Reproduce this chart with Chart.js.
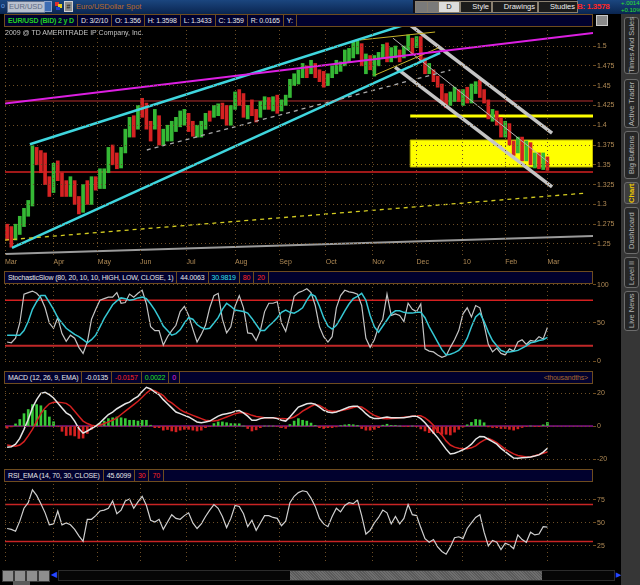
<!DOCTYPE html>
<html lang="en">
<head>
<meta charset="UTF-8">
<meta name="viewport" content="width=device-width, initial-scale=1.0">
<title>EUR/USD 2 y D</title>
<script src="https://cdn.jsdelivr.net/npm/chart.js"></script>
<style>
  body { margin: 0; background: #000; font-family: Arial, "Liberation Sans", sans-serif; }
  #wrap { position: relative; width: 640px; height: 585px; overflow: hidden; background: #000; }
  .a { position: absolute; }
  canvas { position: absolute; left: 5px; }
  .bar { position: absolute; left: 4px; width: 587px; height: 11px; background: #01012e; border: 1px solid #6e4c1e; display: flex; font-size: 7px; line-height: 11px; color: #e6e6e6; white-space: nowrap; overflow: hidden; z-index: 2; letter-spacing: -0.15px; }
  .bar span { display: block; padding: 0 3px 0 3px; border-right: 1px solid #6e4c1e; overflow: hidden; }
  .topbar { left: 0; top: 0; width: 640px; height: 14px; background: linear-gradient(#1b467f, #0a2550); }
  .btn { position: absolute; top: 1px; height: 10px; background: #1b1b1b; border: 1px solid #8a8070; color: #f0f0f0; font-size: 7.5px; line-height: 10px; padding: 0 2px; box-sizing: content-box; }
  .tab { position: absolute; left: 624px; width: 15px; background: #262626; border: 1px solid #6c6c6c; border-radius: 3px; color: #b4b4b4; font-size: 7.5px; writing-mode: vertical-rl; transform: rotate(180deg); text-align: center; line-height: 13px; box-sizing: border-box; white-space: nowrap; }
  .bb { position: absolute; top: 570px; width: 10px; height: 10px; background: #8e8e8e; border: 1px solid #3a3a3a; }
</style>
</head>
<body>
<div id="wrap">
  <!-- top toolbar -->
  <div class="a topbar"></div>
  <div class="a" style="left:1px;top:2px;font-size:7px;color:#6f9fe0;">o</div>
  <div class="a" style="left:7px;top:1px;width:35px;height:10px;background:#b9c1cf;border:1px solid #60708c;font-size:7.5px;line-height:10px;color:#5f6d84;padding-left:1px;">EUR/USD</div>
  <div class="a" style="left:44px;top:1px;width:8px;height:11px;background:#3d6db4;border:1px solid #8aa0c8;box-sizing:border-box;"></div>
  <div class="a" style="left:55px;top:2px;width:4px;height:4px;background:#e03030;"></div>
  <div class="a" style="left:58px;top:4px;width:4px;height:4px;background:#e8d020;"></div>
  <div class="a" style="left:56px;top:7px;width:4px;height:3px;background:#2040d0;"></div>
  <div class="a" style="left:64px;top:1px;width:9px;height:11px;background:#8c8c8c;border:1px solid #d0d0d0;box-sizing:border-box;font-size:7px;line-height:9px;text-align:center;color:#222;">#</div>
  <div class="a" style="left:76px;top:2px;font-size:7.5px;line-height:10px;color:#b8692c;">Euro/USDollar Spot</div>

  <div class="a" style="left:413px;top:0;width:164px;height:13px;background:#101018;"></div>
  <div class="btn" style="left:415px;width:7px;background:#7a7a7a;"></div>
  <div class="btn" style="left:427px;width:7px;background:#7a7a7a;"></div>
  <div class="btn" style="left:438px;width:16px;background:#dcdcdc;color:#111;text-align:center;">D</div>
  <div class="btn" style="left:460px;width:26px;text-align:right;">Style</div>
  <div class="btn" style="left:492px;width:40px;text-align:right;">Drawings</div>
  <div class="btn" style="left:538px;width:34px;text-align:right;">Studies</div>
  <div class="a" style="left:577px;top:1px;font-size:8px;font-weight:bold;color:#ff2626;line-height:11px;letter-spacing:-0.3px;">B: 1.3578</div>
  <div class="a" style="left:621px;top:0;font-size:6px;line-height:6.5px;color:#2ee02e;">+.0014<br>+0.10%</div>

  <!-- price header -->
  <div class="bar" style="top:14px;">
    <span style="color:#22d022;font-weight:bold;">EUR/USD (BID) 2 y D</span>
    <span>D: 3/2/10</span>
    <span>O: 1.356</span>
    <span>H: 1.3598</span>
    <span>L: 1.3433</span>
    <span>C: 1.359</span>
    <span>R: 0.0165</span>
    <span>Y:</span>
  </div>
  <div class="a" style="left:596px;top:15px;width:10px;height:9px;background:#8a8a8a;border:1px solid #c8c8c8;"></div>
  <div class="a" style="left:5px;top:29px;font-size:7px;color:#c4c4c4;z-index:2;">2009 @ TD AMERITRADE IP Company, Inc.</div>

  <canvas id="priceChart" width="612" height="251" style="top:18px;"></canvas>

  <!-- stochastic -->
  <div class="bar" style="top:271px;">
    <span>StochasticSlow (80, 20, 10, 10, HIGH, LOW, CLOSE, 1)</span>
    <span>44.0063</span>
    <span style="color:#34e0ee;">30.9819</span>
    <span style="color:#ff2424;">80</span>
    <span style="color:#ff2424;">20</span>
  </div>
  <canvas id="stochChart" width="612" height="92" style="top:277px;"></canvas>

  <!-- macd -->
  <div class="bar" style="top:371px;">
    <span>MACD (12, 26, 9, EMA)</span>
    <span>-0.0135</span>
    <span style="color:#ff2424;">-0.0157</span>
    <span style="color:#24e024;">0.0022</span>
    <span style="color:#e424e4;">0</span>
    <span style="flex:1;border-right:none;text-align:right;padding-right:4px;color:#a8692e;">&lt;thousandths&gt;</span>
  </div>
  <canvas id="macdChart" width="612" height="91" style="top:377px;"></canvas>

  <!-- rsi -->
  <div class="bar" style="top:469px;">
    <span>RSI_EMA (14, 70, 30, CLOSE)</span>
    <span>45.6099</span>
    <span style="color:#ff2424;">30</span>
    <span style="color:#ff2424;">70</span>
  </div>
  <canvas id="rsiChart" width="612" height="94" style="top:474px;"></canvas>

  <!-- right side tabs -->
  <div class="a" style="left:621px;top:14px;width:19px;height:571px;background:#363636;"></div>
  <div class="tab" style="top:17px;height:57px;">Times And Sales</div>
  <div class="tab" style="top:79px;height:49px;">Active Trader</div>
  <div class="tab" style="top:131px;height:48px;">Big Buttons</div>
  <div class="tab" style="top:182px;height:22px;background:#3e3e3e;color:#f0c800;font-weight:bold;">Chart</div>
  <div class="tab" style="top:207px;height:47px;">Dashboard</div>
  <div class="tab" style="top:257px;height:31px;">Level II</div>
  <div class="tab" style="top:291px;height:40px;">Live News</div>

  <!-- bottom toolbar -->
  <div class="bb" style="left:2px;"></div>
  <div class="bb" style="left:14px;"></div>
  <div class="bb" style="left:26px;"></div>
  <div class="bb" style="left:38px;"></div>
  <div class="a" style="left:13px;top:581px;width:17px;height:4px;background:#5a5a5a;"></div>
  <div class="a" style="left:51px;top:570px;font-size:8px;line-height:10px;color:#2848ff;">&#9664;</div>
  <div class="a" style="left:58px;top:570px;width:557px;height:11px;background:#060606;border:1px solid #2c2c2c;box-sizing:border-box;"></div>
  <div class="a" style="left:290px;top:571px;width:252px;height:9px;background:repeating-linear-gradient(45deg,#6e6e6e 0 1px,#5a5a5a 1px 2px);"></div>
  <div class="a" style="left:616px;top:570px;font-size:7px;line-height:10px;color:#2848ff;">&#9654;</div>
</div>

<script>
// x positions are bar numbers (each bar = two trading days, Mar 2009 .. Mar 2010)
const monthTicks = [-0.5, 11, 21.5, 31.5, 42.5, 54, 64.5, 75.5, 86.5, 97, 108, 118, 128];
const monthLabels = ['Mar', 'Apr', 'May', 'Jun', 'Jul', 'Aug', 'Sep', 'Oct', 'Nov', 'Dec', '10', 'Feb', 'Mar'];

const barHigh = [1.275,1.272,1.275,1.285,1.295,1.305,1.374,1.372,1.368,1.365,
  1.335,1.352,1.355,1.340,1.330,1.335,1.330,1.310,1.325,1.330,
  1.335,1.335,1.345,1.345,1.372,1.375,1.365,1.372,1.395,1.410,
  1.412,1.425,1.434,1.428,1.405,1.420,1.412,1.395,1.400,1.405,
  1.410,1.418,1.420,1.415,1.405,1.400,1.405,1.415,1.418,1.425,
  1.427,1.428,1.425,1.425,1.442,1.445,1.440,1.425,1.432,1.420,
  1.430,1.436,1.435,1.436,1.438,1.432,1.438,1.458,1.465,1.470,
  1.478,1.475,1.482,1.478,1.470,1.468,1.465,1.475,1.482,1.480,
  1.495,1.497,1.506,1.508,1.503,1.490,1.488,1.488,1.492,1.502,
  1.504,1.498,1.500,1.495,1.500,1.514,1.510,1.512,1.512,1.485,
  1.478,1.470,1.462,1.452,1.440,1.442,1.448,1.445,1.445,1.448,
  1.452,1.455,1.457,1.445,1.432,1.420,1.418,1.410,1.405,1.402,
  1.380,1.385,1.385,1.380,1.378,1.365,1.365,1.365,1.360];
const barLow = [1.255,1.246,1.255,1.262,1.272,1.285,1.298,1.350,1.340,1.325,
  1.310,1.315,1.330,1.310,1.310,1.310,1.300,1.288,1.290,1.300,
  1.300,1.318,1.320,1.320,1.340,1.350,1.345,1.346,1.365,1.385,
  1.385,1.395,1.410,1.395,1.380,1.395,1.375,1.375,1.380,1.380,
  1.392,1.398,1.400,1.392,1.386,1.385,1.385,1.395,1.405,1.410,
  1.412,1.408,1.400,1.400,1.420,1.425,1.410,1.408,1.412,1.404,
  1.410,1.420,1.420,1.418,1.415,1.418,1.425,1.435,1.450,1.452,
  1.460,1.460,1.465,1.460,1.455,1.448,1.450,1.460,1.465,1.468,
  1.475,1.480,1.485,1.490,1.475,1.465,1.470,1.462,1.475,1.484,
  1.480,1.480,1.485,1.480,1.485,1.495,1.490,1.498,1.480,1.465,
  1.465,1.455,1.448,1.428,1.422,1.425,1.430,1.430,1.425,1.428,
  1.428,1.440,1.435,1.428,1.408,1.405,1.400,1.385,1.385,1.375,
  1.362,1.365,1.355,1.355,1.350,1.346,1.345,1.344,1.343];
const barClose = [1.262,1.258,1.265,1.280,1.292,1.300,1.370,1.363,1.352,1.330,
  1.322,1.348,1.338,1.318,1.316,1.322,1.305,1.295,1.320,1.312,
  1.328,1.327,1.335,1.340,1.362,1.358,1.350,1.368,1.390,1.400,
  1.395,1.420,1.418,1.400,1.395,1.415,1.380,1.390,1.395,1.400,
  1.402,1.410,1.412,1.398,1.392,1.396,1.402,1.412,1.410,1.420,
  1.422,1.418,1.405,1.420,1.440,1.430,1.415,1.420,1.418,1.412,
  1.425,1.430,1.428,1.432,1.420,1.428,1.435,1.455,1.458,1.465,
  1.472,1.468,1.475,1.465,1.460,1.452,1.462,1.470,1.472,1.478,
  1.490,1.492,1.500,1.502,1.480,1.482,1.474,1.485,1.485,1.495,
  1.485,1.492,1.495,1.485,1.497,1.508,1.502,1.507,1.485,1.470,
  1.470,1.462,1.452,1.435,1.428,1.438,1.440,1.433,1.438,1.432,
  1.448,1.452,1.438,1.430,1.412,1.415,1.405,1.390,1.400,1.380,
  1.366,1.376,1.362,1.375,1.355,1.358,1.350,1.362,1.359];

// drawings on the price panel, as [bar, price] end points
const magentaLine = [[-0.5, 1.4275], [138.8, 1.5165]];
const channelUp = [[5.4, 1.376], [94.3, 1.527]];
const channelLow = [[1.16, 1.245], [102.6, 1.4915]];
const grayDashed = [[33.1, 1.3687], [105, 1.4697]];
const yellowDashed = [[-0.5, 1.255], [137.4, 1.3144]];
const grayLong = [[-0.5, 1.2375], [138.8, 1.2601]];
const downUpper = [[95.5, 1.5265], [129.1, 1.390]];
const downLower = [[91.9, 1.4735], [129.1, 1.322]];
const downMid = [[91.4, 1.510], [128.2, 1.3535]];
const flagUpper = [[83.6, 1.5076], [101.4, 1.5177]];
const flagLower = [[87.2, 1.4634], [102.1, 1.4975]];
const resistLine = [[95.5, 1.4116], [138.8, 1.4116]];
const supportZone = [[95.5, 1.3813], [138.8, 1.3813], [138.8, 1.3472], [95.5, 1.3472], [95.5, 1.3813]];
const priceLevels = [1.3409, 1.4306];
const priceTicks = [1.25, 1.275, 1.3, 1.325, 1.35, 1.375, 1.4, 1.425, 1.45, 1.475, 1.5];

const stochK = [25,24,30,50,88,90,92,89,83,70,50,43,57,36,26,34,30,18,10,25,
  55,68,80,82,84,84,90,76,77,88,84,89,93,75,45,40,40,21,32,40,
  47,65,72,60,42,25,35,47,70,86,89,55,37,45,72,86,70,37,36,27,
  40,65,76,76,78,50,39,60,85,90,92,95,90,73,45,32,25,32,70,86,
  93,91,90,88,73,30,18,28,45,55,88,60,62,60,52,76,68,65,75,16,
  13,12,8,5,7,18,28,40,62,70,58,73,70,48,22,12,17,10,8,16,
  13,25,28,22,27,26,32,29,44];
const stochD = [34,34,34,34,40,52,68,78,86,86,77,68,57,50,43,39,35,32,28,24,
  28,34,45,56,65,74,79,83,82,80,81,83,84,82,75,67,57,46,40,34,
  36,41,50,57,55,48,44,42,43,50,57,68,76,72,67,66,65,63,56,48,
  40,40,46,51,57,64,67,64,63,66,70,80,88,85,72,57,46,42,47,56,
  66,75,82,85,89,80,60,45,38,46,54,62,66,66,64,63,63,64,64,57,
  45,35,25,15,8,9,11,14,20,30,45,58,63,52,38,27,20,14,12,12,
  13,14,17,20,24,25,27,28,31];
const stochLevels = [80, 20];

const macdLine = [-12.8,-12.5,-11,-7.5,-2,4,11,16,19.8,20.5,19,17,14,11,8,6.5,3,-1.5,-4.3,-3,
  -1.5,0,2,4.5,7,8.5,10.5,12,13.5,14.5,16.5,18,21,23.5,22.5,20.5,19,16,13.5,11,
  8.5,7.5,6.5,5.5,4,2.5,2,2.5,3,4.5,6,7,7.5,8,9,9.4,8,6,3.5,3.5,
  4.5,5,5,5,4.5,3.5,3,5.5,8.5,11.5,12.5,13.5,13.8,13.2,11.5,9.5,8.5,8,8.5,9.5,
  10.5,11.5,12,12,10,7.5,5.5,4.5,4.5,5,5.5,5,5,5,5,5.5,6,6,4.5,2,
  -1,-4,-7,-10.5,-14,-16.9,-16.5,-15.5,-14.4,-13,-11,-8,-6.3,-6.5,-8,-9.4,-11,-13.5,-15.5,-17.5,
  -19.4,-19.5,-19.2,-19,-18.8,-18.2,-17.5,-15.8,-13.5];
const macdSignal = [-11.5,-12,-12.3,-11.5,-9.5,-6,-2,3,7.5,11,13.5,14.4,14.4,14.2,13.75,12,9,6,3,1.5,
  0.5,0,0.5,1.5,2.5,3.5,5,7,9,11,13,15,17.5,20,22,21.5,20,18.5,15.6,14,
  12,10,8.5,7.5,6.5,5.5,4.5,3.5,3.2,3,3.5,4.5,5.5,6.5,7.5,8,8,7.5,6.5,5.8,
  5.5,5,5,5,4.8,4.5,4.4,4.6,5.5,7,9,10.5,12,13,12.5,11,9.5,9,9,9.2,
  9.8,10.5,11.2,11.9,11.5,10,8,6.5,5.5,4.5,4.4,4.6,4.8,5,5.3,5.6,6,6.2,6.25,5,
  3,0.5,-3,-5.5,-9,-11.5,-12.8,-13.5,-13.75,-13.75,-13.2,-12,-10,-8.5,-7.5,-8.5,-10,-12,-14,-15.5,
  -16.9,-17.8,-18.3,-18.75,-18.8,-18,-17.3,-16.5,-15.7];

const rsiLine = [44,43,41,52,66,72,86,80,71,61,48,49,63,48,50,48,43,36,30,54,
  54,58,63,64,66,74,60,64,74,76,66,73,79,69,53,51,54,43,51,59,
  55,54,58,61,50,44,49,57,64,70,66,57,45,55,69,68,60,46,53,42,
  50,58,58,56,55,47,52,72,79,83,85,84,77,68,55,49,46,57,66,62,
  69,72,71,75,58,38,42,50,56,64,61,49,57,49,55,70,59,58,45,33,
  29,32,24,19,16,24,34,35,33,44,50,56,59,40,25,31,29,21,28,26,
  22,37,32,29,40,37,38,46,45.6];
const rsiLevels = [70, 30];

const xMin = -0.5, xMax = 138.8;
const upColor = '#35b835', downColor = '#d42222';
const plotBg = '#333333', gridColor = '#6d4e26', frameColor = '#6e4c1e', axisText = '#b08a55';
const tealEdge = '#2f7a7a';

Chart.defaults.font.family = 'Arial, "Liberation Sans", sans-serif';
Chart.defaults.font.size = 7;
Chart.defaults.plugins.legend.display = false;
Chart.defaults.plugins.tooltip.enabled = false;

const pts = arr => arr.map((v, i) => ({ x: i, y: v }));
const seg = list => list.map(p => ({ x: p[0], y: p[1] }));

function lineSet(data, color, width, extra) {
    return Object.assign({
        type: 'line', data, borderColor: color, borderWidth: width,
        pointRadius: 0, fill: false, tension: 0, order: 5
    }, extra || {});
}

function levelSet(v, color, width) {
    return lineSet(seg([[xMin, v], [xMax, v]]), color, width, { order: 15 });
}

// background, frame, two-tone study levels, value flags and notes
const panelDeco = {
    id: 'panelDeco',
    beforeDraw(chart) {
        const { ctx, chartArea: a } = chart;
        ctx.save();
        ctx.fillStyle = plotBg;
        ctx.fillRect(a.left, a.top, a.width, a.height);
        ctx.restore();
    },
    beforeDatasetsDraw(chart, args, opts) {
        const { ctx, chartArea: a, scales } = chart;
        ctx.save();
        (opts.edges || []).forEach(e => {
            const y = Math.round(scales.y.getPixelForValue(e.value)) + e.shift + 0.5;
            ctx.strokeStyle = e.color;
            ctx.lineWidth = 1;
            ctx.beginPath();
            ctx.moveTo(a.left, y);
            ctx.lineTo(a.right, y);
            ctx.stroke();
        });
        ctx.restore();
    },
    afterDraw(chart, args, opts) {
        const { ctx, chartArea: a, scales } = chart;
        ctx.save();
        ctx.strokeStyle = frameColor;
        ctx.lineWidth = 1;
        ctx.strokeRect(a.left + 0.5, a.top + 0.5, a.width - 1, a.height - 1);
        ctx.font = '7px Arial, "Liberation Sans", sans-serif';
        (opts.notes || []).forEach(n => {
            const x = scales.x.getPixelForValue(n.x);
            const y = scales.y.getPixelForValue(n.y);
            ctx.fillStyle = n.color;
            ctx.save();
            ctx.translate(x + (n.dx || 0), y + (n.dy || 0));
            if (n.rotate) ctx.rotate(-Math.PI / 2);
            ctx.textAlign = 'left';
            ctx.textBaseline = 'alphabetic';
            ctx.fillText(n.text, 0, 0);
            ctx.restore();
        });
        (opts.flags || []).forEach(f => {
            const y = Math.round(scales.y.getPixelForValue(f.value));
            const w = ctx.measureText(f.text).width + 6;
            const x = a.right + 1;
            ctx.fillStyle = f.bg;
            ctx.strokeStyle = f.edge || '#ffffff';
            ctx.beginPath();
            ctx.roundRect(x + 0.5, y - 5.5, w, 11, 2);
            ctx.fill();
            ctx.stroke();
            ctx.fillStyle = f.fg;
            ctx.textAlign = 'left';
            ctx.textBaseline = 'middle';
            ctx.fillText(f.text, x + 3.5, y + 0.5);
        });
        ctx.restore();
    }
};

function xAxis(showLabels) {
    return {
        type: 'linear', min: xMin, max: xMax, offset: false,
        grid: { color: gridColor, drawTicks: false, offset: false, z: 1 },
        border: { display: false, dash: [1, 3] },
        afterBuildTicks: s => { s.ticks = monthTicks.map(v => ({ value: v })); },
        afterFit: s => { s.height = showLabels ? 14 : 0; s.paddingLeft = 0; s.paddingRight = 0; },
        ticks: {
            display: showLabels, autoSkip: false, maxRotation: 0, align: 'start', padding: 3,
            color: axisText, callback: (v, i) => monthLabels[i]
        }
    };
}

function yAxis(min, max, ticks, fmt) {
    return {
        position: 'right', min, max,
        grid: { color: gridColor, drawTicks: true, tickLength: 3, tickColor: frameColor, z: 1 },
        border: { display: false, dash: [1, 3] },
        afterBuildTicks: s => { s.ticks = ticks.map(v => ({ value: v })); },
        afterFit: s => { s.width = 24; s.paddingTop = 0; s.paddingBottom = 0; },
        ticks: { color: axisText, padding: 1, autoSkip: false, callback: fmt || (v => String(v)) }
    };
}

function baseOptions(showX, y, padTop, padBottom, deco) {
    return {
        responsive: false, animation: false, events: [],
        layout: { padding: { top: padTop, bottom: padBottom, left: 0, right: 0 } },
        scales: { x: xAxis(showX), y },
        plugins: { panelDeco: deco }
    };
}

new Chart(document.getElementById('priceChart'), {
    type: 'bar',
    data: {
        datasets: [
            {
                type: 'bar',
                data: barHigh.map((h, i) => ({ x: i, y: [barLow[i], h] })),
                backgroundColor: barClose.map((c, i) => (i === 0 || c < barClose[i - 1]) ? downColor : upColor),
                barThickness: 3, grouped: false, borderWidth: 0, order: 10
            },
            lineSet(seg(supportZone), '#b8b000', 1, { fill: 'shape', backgroundColor: '#ffff00', order: 20 }),
            lineSet(seg(resistLine), '#ffff00', 3, { order: 15 }),
            levelSet(priceLevels[0], '#d42020', 1.5),
            levelSet(priceLevels[1], '#b83030', 1),
            lineSet(seg(grayLong), '#9a9a9a', 2),
            lineSet(seg(yellowDashed), '#d4cc20', 1.3, { borderDash: [4, 4] }),
            lineSet(seg(grayDashed), '#a8a8a8', 1.3, { borderDash: [4, 4] }),
            lineSet(seg(magentaLine), '#dc1fe2', 2),
            lineSet(seg(channelUp), '#3fd6de', 2.5),
            lineSet(seg(channelLow), '#3fd6de', 2.5),
            lineSet(seg(flagUpper), '#c8b428', 1),
            lineSet(seg(flagLower), '#c8b428', 1),
            lineSet(seg(downUpper), '#c4c4c4', 3.5),
            lineSet(seg(downLower), '#c4c4c4', 3.5),
            lineSet(seg(downMid), '#b4b4b4', 1)
        ]
    },
    options: baseOptions(true,
        yAxis(1.2361, 1.5253, priceTicks, v => String(+v.toFixed(3))),
        8, 0,
        {
            edges: [{ value: priceLevels[1], shift: -1, color: tealEdge }],
            notes: [
                { text: '$1.34', x: xMin, y: priceLevels[0], dx: 4, dy: -2, color: '#d83030' },
                { text: '$1.43', x: xMin, y: priceLevels[1], dx: 4, dy: -2, color: '#d83030' },
                { text: '2009 year', x: 108, y: 1.245, dx: -1, dy: 0, color: '#6a4e2a', rotate: true }
            ],
            flags: [{ value: barClose[barClose.length - 1], text: '1.359', bg: '#22d222', fg: '#0a2a0a', edge: '#8af08a' }]
        })
});

new Chart(document.getElementById('stochChart'), {
    type: 'line',
    data: {
        datasets: [
            lineSet(pts(stochK), '#c4c4c4', 1.2, { order: 2 }),
            lineSet(pts(stochD), '#36c8d4', 1.5, { order: 1 }),
            levelSet(stochLevels[0], '#d42020', 1.5),
            levelSet(stochLevels[1], '#c02828', 2)
        ]
    },
    options: baseOptions(false, yAxis(-2.6, 102.6, [0, 50, 100]), 6, 6, {
        edges: [{ value: stochLevels[1], shift: -2, color: tealEdge }],
        flags: [
            { value: 44.0, text: '44.005', bg: '#d8d8d8', fg: '#111111' },
            { value: 31.0, text: '30.982', bg: '#22eefa', fg: '#0a2a2a' }
        ]
    })
});

new Chart(document.getElementById('macdChart'), {
    type: 'bar',
    data: {
        datasets: [
            {
                type: 'bar',
                data: macdLine.map((v, i) => ({ x: i, y: v - macdSignal[i] })),
                backgroundColor: macdLine.map((v, i) => v - macdSignal[i] >= 0 ? '#38c838' : '#d42020'),
                barThickness: 2, grouped: false, borderWidth: 0, order: 10
            },
            levelSet(0, '#d020d0', 1),
            lineSet(pts(macdSignal), '#d42020', 1.5, { order: 2 }),
            lineSet(pts(macdLine), '#e4e4e4', 1.5, { order: 1 })
        ]
    },
    options: baseOptions(false, yAxis(-21.8, 26.1, [-20, 0, 20]), 6, 6, {
        edges: [{ value: 0, shift: -1, color: '#2a7a2a' }],
        flags: [
            { value: 2.1664, text: '2.1664', bg: '#22e622', fg: '#0a2a0a' },
            { value: -13.54, text: '-13.54', bg: '#e8e8e8', fg: '#111111' }
        ]
    })
});

new Chart(document.getElementById('rsiChart'), {
    type: 'line',
    data: {
        datasets: [
            lineSet(pts(rsiLine), '#d0d0d0', 1.2, { order: 1 }),
            levelSet(rsiLevels[0], '#c82424', 1.5),
            levelSet(rsiLevels[1], '#c82424', 1.5)
        ]
    },
    options: baseOptions(false, yAxis(7.6, 96.7, [25, 50, 75]), 6, 6, {
        edges: [
            { value: rsiLevels[0], shift: -2, color: tealEdge },
            { value: rsiLevels[1], shift: 1, color: tealEdge }
        ],
        flags: [{ value: 45.61, text: '45.61', bg: '#eeeeee', fg: '#111111' }]
    })
});

[...document.querySelectorAll('canvas')].forEach(c => { c.style.zIndex = 1; });
</script>
</body>
</html>
